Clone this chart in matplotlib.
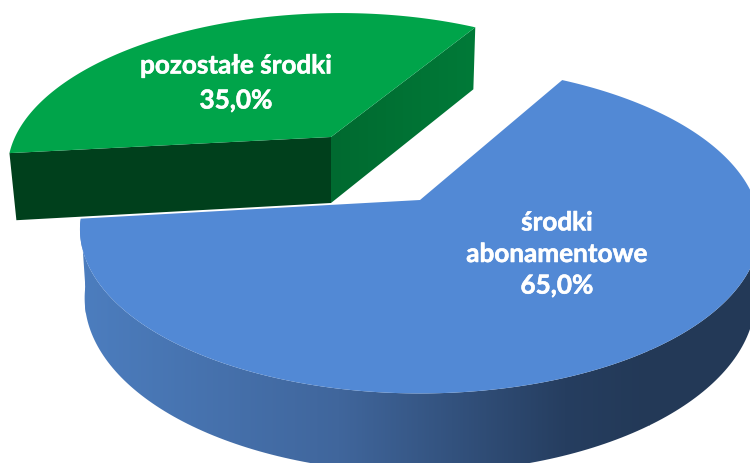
#!/usr/bin/env python3
"""3D-looking exploded pie: srodki abonamentowe vs pozostale srodki."""

import matplotlib

matplotlib.use("Agg")
import matplotlib.patheffects as pe
import matplotlib.pyplot as plt
import numpy as np
from matplotlib.colors import LinearSegmentedColormap
from matplotlib.patches import Polygon

categories = ["środki\nabonamentowe", "pozostałe środki"]
values = [65.0, 35.0]

START_ANGLE = 60.6  # where the blue slice starts, going clockwise
K = 0.178  # perspective strength

# picture maps: ax, ay, g, s, f, t
BLUE_TOP = (420, 201, 334.6, 0, 159, 0)
BLUE_BOTTOM = (420, 268, 330, 0, 169, 0)
GREEN_TOP = (331, 138, 315.5, 13.5, 146, 1.0)
GREEN_BOTTOM = (331, 204, 308.5, 14.9, 151, 0.5)


def project(theta_deg, m):
    ax_, ay, g, s, f, t = m
    th = np.radians(theta_deg)
    den = 1 + K * np.sin(th)
    u, v = np.cos(th) / den, np.sin(th) / den
    return np.column_stack([ax_ + g * u + s * v, ay - f * v + t * u])


sweep = 360 * values[0] / sum(values)
blue_a, blue_b = START_ANGLE, START_ANGLE - sweep
green_a, green_b = START_ANGLE, START_ANGLE + 360 - sweep

fig = plt.figure(figsize=(7.5, 4.64), dpi=100)
ax = fig.add_axes([0, 0, 1, 1])
ax.axis("off")

# blue side wall, runs from the left corner round the front
th_side = np.linspace(blue_b, blue_b + 200, 200)
side_pts = np.vstack([project(th_side, BLUE_TOP), project(th_side, BLUE_BOTTOM)[::-1]])
side = Polygon(side_pts, closed=True, fc="none", ec="none")
ax.add_patch(side)
blue_cmap = LinearSegmentedColormap.from_list(
    "side", [(0, "#4C7DBE"), (0.45, "#40669C"), (0.85, "#263E60"), (1, "#233957")]
)
grad = ax.imshow(
    np.linspace(0, 1, 256).reshape(1, -1), cmap=blue_cmap, aspect="auto",
    extent=(85, 650, 464, 200), zorder=1,
)
grad.set_clip_path(side)
right = ax.imshow(
    np.ones((1, 2)), cmap=blue_cmap, vmin=0, vmax=1, aspect="auto",
    extent=(649, 770, 464, 200), zorder=1,
)
right.set_clip_path(side)
left = ax.imshow(
    np.zeros((1, 2)), cmap=blue_cmap, vmin=0, vmax=1, aspect="auto",
    extent=(70, 86, 464, 200), zorder=1,
)
left.set_clip_path(side)

# blue top
arc = project(np.linspace(blue_a, blue_b, 300), BLUE_TOP)
apex = np.array([[BLUE_TOP[0], BLUE_TOP[1]]])
ax.add_patch(Polygon(np.vstack([apex, arc]), closed=True, fc="#5289D5", ec="none", zorder=2))

# green wedge: two cut faces, then the top
top_a = project(np.array([green_a]), GREEN_TOP)
top_b = project(np.array([green_b]), GREEN_TOP)
bot_a = project(np.array([green_a]), GREEN_BOTTOM)
bot_b = project(np.array([green_b]), GREEN_BOTTOM)
g_apex_t = np.array([[GREEN_TOP[0], GREEN_TOP[1]]])
g_apex_b = np.array([[GREEN_BOTTOM[0], GREEN_BOTTOM[1]]])
ax.add_patch(Polygon(np.vstack([top_b, g_apex_t, g_apex_b, bot_b]), closed=True,
                     fc="#00401C", ec="none", zorder=3))
face = Polygon(np.vstack([g_apex_t, top_a, bot_a, g_apex_b]), closed=True, fc="none", ec="none", zorder=3)
ax.add_patch(face)
green_cmap = LinearSegmentedColormap.from_list("face", ["#006A30", "#007A38"])
gface = ax.imshow(
    np.linspace(0, 1, 64).reshape(1, -1), cmap=green_cmap, aspect="auto",
    extent=(331, 476, 210, 25), zorder=3,
)
gface.set_clip_path(face)
arc_g = project(np.linspace(green_a, green_b, 200), GREEN_TOP)
ax.add_patch(Polygon(np.vstack([g_apex_t, arc_g]), closed=True, fc="#00A44A", ec="none", zorder=4))

ax.set_xlim(0, 750)
ax.set_ylim(464, 0)

style = dict(color="white", fontweight="bold", family="Lato", fontsize=18.8, ha="center",
             va="center", zorder=5,
             path_effects=[pe.withStroke(linewidth=0.4, foreground="white")])
ax.text(557, 255, f"{categories[0]}\n{values[0]:.1f}%".replace(".", ","), linespacing=1.38, **style)
ax.text(236, 84, f"{categories[1]}\n{values[1]:.1f}%".replace(".", ","), linespacing=1.55, **style)

fig.savefig("out.png", dpi=100)
plt.close(fig)
